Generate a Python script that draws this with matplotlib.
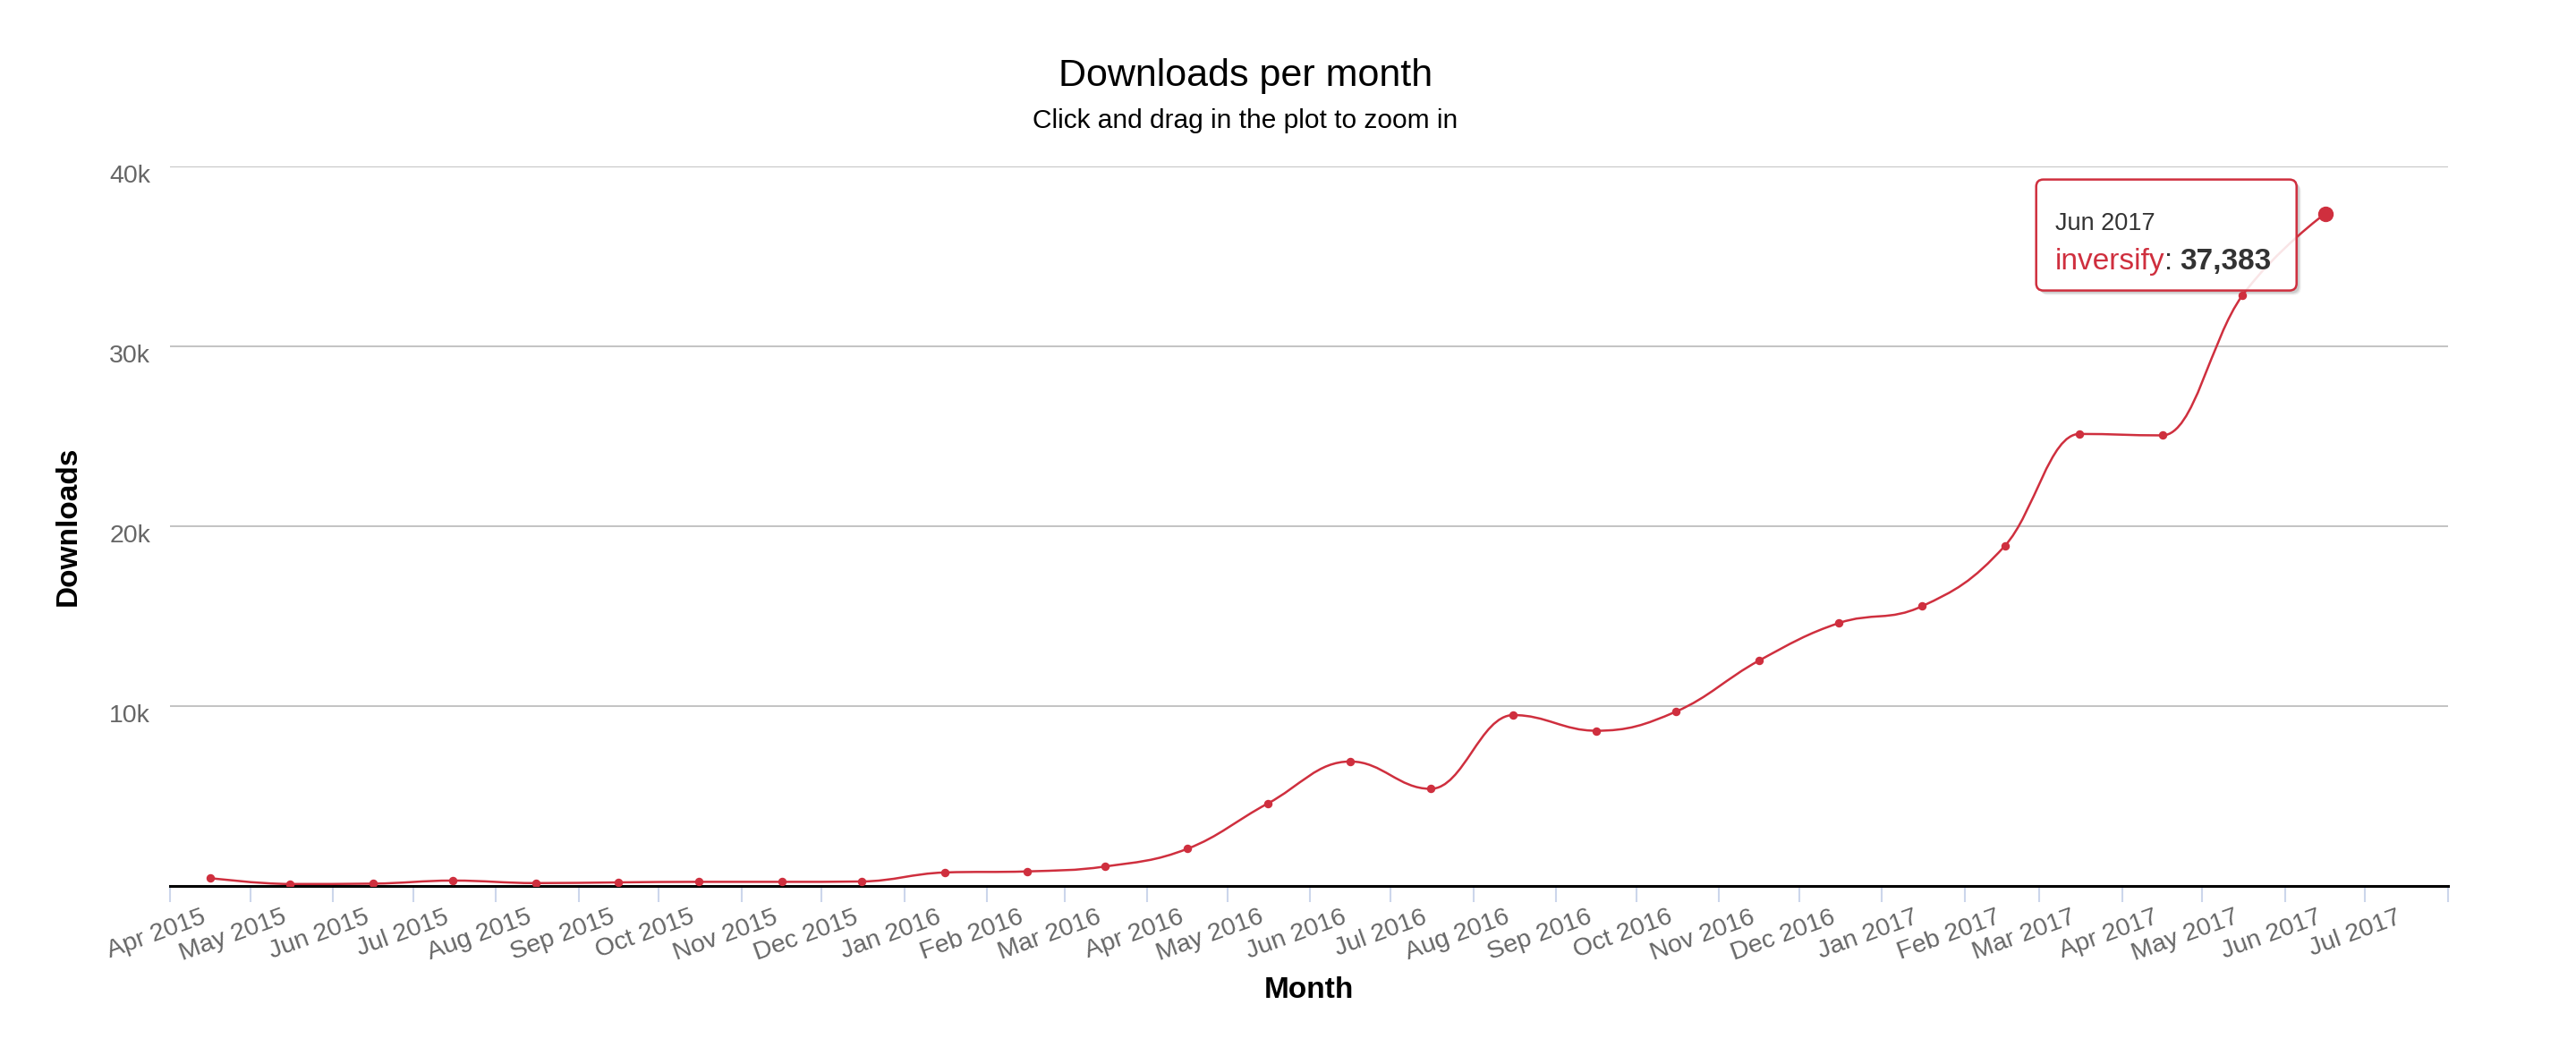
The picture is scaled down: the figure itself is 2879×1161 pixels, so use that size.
import datetime as dt

import matplotlib
matplotlib.use('Agg')
import matplotlib.pyplot as plt
import matplotlib.dates as mdates
from matplotlib.path import Path
from matplotlib.patches import PathPatch, FancyBboxPatch
from matplotlib.transforms import IdentityTransform, ScaledTranslation

# ── Data ──────────────────────────────────────────────────────────────────────
months = ['Apr 2015', 'May 2015', 'Jun 2015', 'Jul 2015', 'Aug 2015', 'Sep 2015',
          'Oct 2015', 'Nov 2015', 'Dec 2015', 'Jan 2016', 'Feb 2016', 'Mar 2016',
          'Apr 2016', 'May 2016', 'Jun 2016', 'Jul 2016', 'Aug 2016', 'Sep 2016',
          'Oct 2016', 'Nov 2016', 'Dec 2016', 'Jan 2017', 'Feb 2017', 'Mar 2017',
          'Apr 2017', 'May 2017', 'Jun 2017']
downloads = [440, 110, 130, 300, 160, 200, 230, 230, 250, 750, 810, 1080,
             2070, 4580, 6920, 5400, 9500, 8630, 9700, 12530, 14620, 15550,
             18900, 25130, 25050, 32830, 37383]
tick_months = months + ['Jul 2017']
y_ticks = [10000, 20000, 30000, 40000]
y_tick_labels = ['10k', '20k', '30k', '40k']
series_name = 'inversify'

# ── Style ─────────────────────────────────────────────────────────────────────
W, H, DPI = 2879, 1161, 100
red = '#cf2f3e'
label_grey = '#666666'
grid_grey = '#c4c4c4'
tick_blue = '#ccd6eb'
plt.rcParams['font.family'] = ['Liberation Sans', 'DejaVu Sans']


def month_start(label, extra=0):
    d = dt.datetime.strptime(label, '%b %Y')
    m = d.month - 1 + extra
    return dt.datetime(d.year + m // 12, m % 12 + 1, 1)


def mid_month(label):
    return mdates.date2num(month_start(label) + dt.timedelta(days=15))


def spline_path(xs, ys, smoothing=1.5):
    # highcharts style spline: cubic bezier with collinear control points
    n = len(xs)
    right = [None] * n
    verts = [(xs[0], ys[0])]
    codes = [Path.MOVETO]
    den = smoothing + 1
    for i in range(1, n):
        px, py = xs[i], ys[i]
        lx, ly = xs[i - 1], ys[i - 1]
        lcx, lcy = px, py
        if i < n - 1:
            nx, ny = xs[i + 1], ys[i + 1]
            lcx = (smoothing * px + lx) / den
            lcy = (smoothing * py + ly) / den
            rcx = (smoothing * px + nx) / den
            rcy = (smoothing * py + ny) / den
            corr = (rcy - lcy) * (rcx - px) / (rcx - lcx) + py - rcy
            lcy += corr
            rcy += corr
            if lcy > ly and lcy > py:
                lcy = max(ly, py); rcy = 2 * py - lcy
            elif lcy < ly and lcy < py:
                lcy = min(ly, py); rcy = 2 * py - lcy
            if rcy > ny and rcy > py:
                rcy = max(ny, py); lcy = 2 * py - rcy
            elif rcy < ny and rcy < py:
                rcy = min(ny, py); lcy = 2 * py - rcy
            right[i] = (rcx, rcy)
        c1 = right[i - 1] if right[i - 1] else (lx, ly)
        verts += [c1, (lcx, lcy), (px, py)]
        codes += [Path.CURVE4] * 3
    return Path(verts, codes)


fig = plt.figure(figsize=(W / DPI, H / DPI), dpi=DPI)
fig.patch.set_facecolor('white')

left, right_px, top, bottom = 190, 2736, 186, 990
ax = fig.add_axes([left / W, 1 - bottom / H, (right_px - left) / W, (bottom - top) / H])
ax.patch.set_visible(False)

xs = [mid_month(m) for m in months]
ax.add_patch(PathPatch(spline_path(xs, downloads), fc='none', ec=red, lw=1.8,
                       zorder=3, capstyle='round', joinstyle='round'))
ax.plot(xs, downloads, 'o', ms=5.8, color=red, zorder=4)
ax.plot(xs[-1], downloads[-1], 'o', ms=11.5, color=red, zorder=5)

x0 = mdates.date2num(month_start(months[0]))
x1 = mdates.date2num(month_start(tick_months[-1], 1))
ax.set_xlim(x0, x1)
ax.set_ylim(0, 40000)

# month boundary tick marks, labels at mid month
ax.set_xticks([mdates.date2num(month_start(months[0], k)) for k in range(len(tick_months) + 1)])
ax.tick_params(axis='x', which='major', length=13, width=1.5, color=tick_blue,
               labelbottom=False)
ax.set_xticks([mid_month(m) for m in tick_months], tick_months, minor=True)
ax.tick_params(axis='x', which='minor', length=0, pad=29.5, labelsize=20.5,
               labelcolor=label_grey)
shift_x = ScaledTranslation(-3 / DPI, 0, fig.dpi_scale_trans)
for lab in ax.get_xticklabels(minor=True):
    lab.set_rotation(20)
    lab.set_rotation_mode('anchor')
    lab.set_ha('right')
    lab.set_va('baseline')
    lab.set_transform(lab.get_transform() + shift_x)

ax.set_yticks(y_ticks, y_tick_labels)
ax.tick_params(axis='y', length=0, pad=15.8, labelsize=20.5, labelcolor=label_grey)
shift_y = ScaledTranslation(0, -8 / DPI, fig.dpi_scale_trans)
for lab in ax.get_yticklabels():
    lab.set_transform(lab.get_transform() + shift_y)

ax.yaxis.grid(True, color=grid_grey, lw=1.44)
ax.set_axisbelow(True)
for side in ['top', 'right', 'left']:
    ax.spines[side].set_visible(False)
ax.spines['bottom'].set_color('black')
ax.spines['bottom'].set_linewidth(2.2)
ax.spines['bottom'].set_zorder(2.5)

# ── Titles ────────────────────────────────────────────────────────────────────
fig.text(1392 / W, 1 - 96 / H, 'Downloads per month', ha='center', va='baseline',
         fontsize=31, color='black')
fig.text(1392 / W, 1 - 143 / H, 'Click and drag in the plot to zoom in',
         ha='center', va='baseline', fontsize=21.5, color='black')
fig.text(76 / W, 1 - 588 / H, 'Downloads', rotation=90, ha='center', va='center',
         fontsize=24, fontweight='bold', color='black')
fig.text(1463 / W, 1 - 1115 / H, 'Month', ha='center', va='baseline',
         fontsize=24, fontweight='bold', color='black')

# ── Tooltip on last point ─────────────────────────────────────────────────────
px, py = ax.transData.transform((xs[-1], downloads[-1]))
bx0, bx1 = px - 323, px - 32
by1, by0 = py + 38, py - 86
bw, bh = bx1 - bx0, by1 - by0
ident = IdentityTransform()
box_style = 'round,pad=0,rounding_size=8'
# shadow and solid white backing sit below the axes, so the line shows faintly through
for k, a in [(5, 0.05), (4, 0.07), (3, 0.09)]:
    fig.add_artist(FancyBboxPatch((bx0 + k, by0 - k), bw, bh, boxstyle=box_style,
                                  transform=ident, fc=(0, 0, 0, a), ec='none', zorder=-3))
fig.add_artist(FancyBboxPatch((bx0, by0), bw, bh, boxstyle=box_style, transform=ident,
                              fc='white', ec='none', zorder=-2))
fig.add_artist(FancyBboxPatch((bx0, by0), bw, bh, boxstyle=box_style, transform=ident,
                              fc=(1, 1, 1, 0.88), ec=red, lw=1.8, zorder=7))
fig.text(bx0 + 21, by1 - 56, months[-1], transform=ident, ha='left', va='baseline',
         fontsize=19.5, color='#333333', zorder=8)

renderer = fig.canvas.get_renderer()
t1 = fig.text(bx0 + 21, by1 - 100, series_name, transform=ident, ha='left',
              va='baseline', fontsize=24, color=red, zorder=8)
xe = t1.get_window_extent(renderer).x1
t2 = fig.text(xe, by1 - 100, ':', transform=ident, ha='left', va='baseline',
              fontsize=24, color='#333333', zorder=8)
xe = t2.get_window_extent(renderer).x1 + 8
fig.text(xe, by1 - 100, f'{downloads[-1]:,}', transform=ident, ha='left',
         va='baseline', fontsize=24, fontweight='bold', color='#333333', zorder=8)

fig.savefig('out.png', dpi=DPI, facecolor='white')
